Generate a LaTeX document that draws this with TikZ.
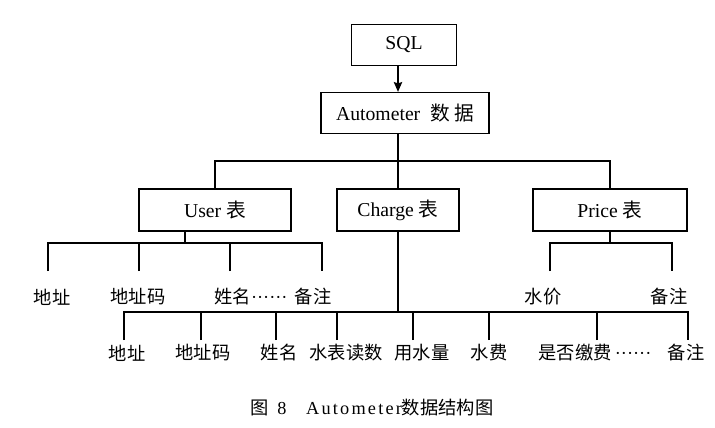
\documentclass[tikz,border=0pt]{standalone}
\usepackage{fontspec}
\setmainfont{Liberation Serif}
\newfontfamily\cjk{Noto Sans CJK SC}
\usetikzlibrary{arrows.meta}

\newcommand\sixdots{{\rmfamily\textperiodcentered\textperiodcentered\textperiodcentered\textperiodcentered\textperiodcentered\textperiodcentered}}

\tikzset{
    box/.style={draw, line width=0.8pt, minimum height=1.03cm, inner sep=0pt,
      font=\fontsize{14}{16}\selectfont},
    leaf/.style={inner sep=0pt, font=\fontsize{13}{15}\selectfont\cjk},
    link/.style={line width=0.8pt},
    arrow/.style={line width=0.8pt, -{Stealth[length=7pt, width=6pt, inset=1pt]}}
  }

\begin{document}
\begin{tikzpicture}[x=0.025cm, y=-0.025cm]
    \useasboundingbox (0,0) rectangle (715,427);

    % boxes
    \node[box, minimum width=2.625cm] (sql) at (404,45) {SQL};
    \node[box, minimum width=4.2cm] (auto) at (405,113) {Autometer\ \ {\cjk 数 据}};
    \node[box, minimum width=3.8cm, minimum height=1.05cm] (user) at (215,210) {User {\cjk 表}};
    \node[box, minimum width=3.05cm, minimum height=1.05cm] (charge) at (398,210) {Charge {\cjk 表}};
    \node[box, minimum width=3.85cm, minimum height=1.05cm] (price) at (610,210) {Price {\cjk 表}};

    \draw[arrow] (sql.south -| charge) -- (auto.north -| charge);

    \coordinate (bar) at (0,161);
    \draw[link] (auto.south -| charge) -- (charge.north);
    \draw[link] (user.north) -- (user.north |- bar) -- (price.north |- bar) -- (price.north);

    % User
    \coordinate (ujoint) at (185,243);
    \coordinate (u1) at (48,271);
    \coordinate (u2) at (139,271);
    \coordinate (u3) at (230,271);
    \coordinate (u4) at (322,271);
    \draw[link] (user.south -| ujoint) -- (ujoint);
    \draw[link] (u1) -- (u1 |- ujoint) -- (u4 |- ujoint) -- (u4);
    \draw[link] (u2) -- (u2 |- ujoint);
    \draw[link] (u3) -- (u3 |- ujoint);

    \node[leaf] (uaddr) at (52,297) {地址};
    \node[leaf] (ucode) at (138,297) {地址码};
    \node[leaf] (uname) at (251,297) {姓名\sixdots};
    \node[leaf] (unote) at (313,297) {备注};

    % Price
    \coordinate (pjoint) at (610,243);
    \coordinate (p1) at (550,271);
    \coordinate (p2) at (672,271);
    \draw[link] (price.south) -- (pjoint);
    \draw[link] (p1) -- (p1 |- pjoint) -- (p2 |- pjoint) -- (p2);

    \node[leaf] (pprice) at (543,297) {水价};
    \node[leaf] (pnote) at (669,297) {备注};

    % Charge
    \coordinate (cjoint) at (398,312);
    \coordinate (c1) at (124,340);
    \coordinate (c2) at (201,340);
    \coordinate (c3) at (276,340);
    \coordinate (c4) at (337,340);
    \coordinate (c5) at (413,340);
    \coordinate (c6) at (489,340);
    \coordinate (c7) at (597,340);
    \coordinate (c8) at (688,340);
    \draw[link] (charge.south) -- (cjoint);
    \draw[link] (c1) -- (c1 |- cjoint) -- (c8 |- cjoint) -- (c8);
    \draw[link] (c2) -- (c2 |- cjoint);
    \draw[link] (c3) -- (c3 |- cjoint);
    \draw[link] (c4) -- (c4 |- cjoint);
    \draw[link] (c5) -- (c5 |- cjoint);
    \draw[link] (c6) -- (c6 |- cjoint);
    \draw[link] (c7) -- (c7 |- cjoint);

    \node[leaf] (caddr) at (127,353) {地址};
    \node[leaf] (ccode) at (203,353) {地址码};
    \node[leaf] (cname) at (279,353) {姓名};
    \node[leaf] (cread) at (346,353) {水表读数};
    \node[leaf] (cused) at (422,353) {用水量};
    \node[leaf] (cfee) at (489,353) {水费};
    \node[leaf] (cpaid) at (595,353) {是否缴费\,\sixdots};
    \node[leaf] (cnote) at (686,353) {备注};

    % caption
    \node[font=\fontsize{13}{15}\selectfont] (caption) at (372,408)
      {{\cjk 图}\hspace{6pt}8\hspace{14pt}{\addfontfeature{LetterSpace=12}Autometer}{\cjk 数据结构图}};

  \end{tikzpicture}
\end{document}
